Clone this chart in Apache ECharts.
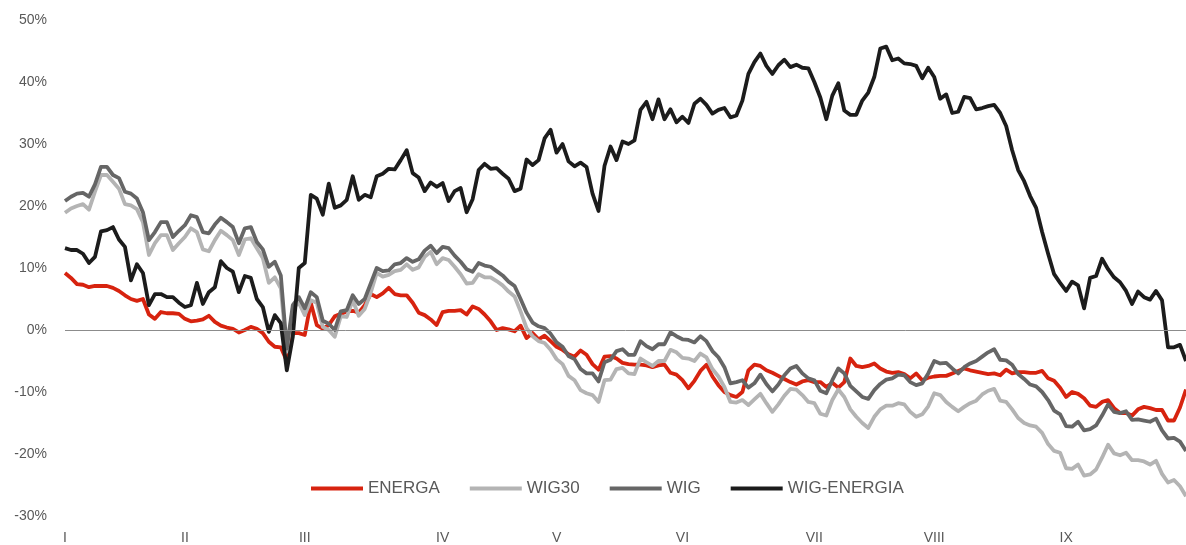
<!DOCTYPE html>
<html>
<head>
<meta charset="utf-8">
<script src="https://cdn.jsdelivr.net/npm/echarts@6/dist/echarts.min.js"></script>
<style>
  html, body { margin: 0; padding: 0; background: #fff; }
  #main { width: 1186px; height: 545px; }
</style>
</head>
<body>
<div id="main"></div>
<script>
// session index where each month starts, and its label
var monthStart = [0, 20, 40, 63, 82, 103, 125, 145, 167];
var monthLabel = ['I', 'II', 'III', 'IV', 'V', 'VI', 'VII', 'VIII', 'IX'];

// cumulative change, %
var energa = [
  9.2, 8.4, 7.4, 7.3, 6.9, 7.1, 7.1, 7.1, 6.8, 6.3,
  5.6, 5.0, 4.7, 5.0, 2.5, 1.8, 2.9, 2.7, 2.7, 2.6,
  1.8, 1.4, 1.5, 1.7, 2.3, 1.3, 0.7, 0.4, 0.2, -0.4,
  0.0, 0.5, 0.2, -0.5, -1.9, -2.7, -2.8, -5.0, -0.5, -0.5,
  -0.8, 4.4, 0.8, 0.2, 0.8, 2.2, 2.6, 3.0, 3.1, 2.8,
  4.0, 5.8, 5.3, 5.9, 6.8, 5.8, 5.6, 5.6, 4.4, 2.8,
  2.4, 1.7, 0.8, 2.9, 3.1, 3.1, 3.2, 2.5, 3.8, 3.4,
  2.5, 1.4, 0.0, 0.3, 0.1, -0.2, 0.7, -1.3, -0.5, -1.5,
  -0.9, -1.8, -2.7, -3.2, -3.9, -4.3, -3.3, -4.0, -5.5, -6.4,
  -4.3, -4.2, -4.6, -5.3, -5.5, -5.6, -5.6, -5.7, -6.0, -5.7,
  -5.6, -6.9, -7.2, -8.1, -9.4, -8.2, -6.6, -5.6, -7.5, -8.9,
  -10.0, -10.5, -10.8, -10.0, -6.5, -5.6, -5.8, -6.5, -6.9, -7.4,
  -7.9, -8.4, -8.8, -8.3, -8.1, -8.4, -8.4, -9.2, -8.5, -9.3,
  -8.4, -4.6, -5.8, -6.0, -5.8, -5.4, -6.2, -6.7, -6.9, -6.8,
  -7.1, -7.8, -7.0, -8.1, -7.7, -7.5, -7.4, -7.4, -7.0, -6.6,
  -6.2, -6.5, -6.7, -6.9, -7.1, -7.0, -7.3, -6.4, -7.0, -6.8,
  -6.8, -6.9, -6.9, -6.6, -7.8, -8.2, -9.3, -10.8, -10.0, -10.3,
  -11.0, -12.2, -12.4, -11.6, -11.3, -12.6, -13.4, -13.4, -13.8, -12.8,
  -12.4, -12.6, -12.9, -12.9, -14.6, -14.6, -12.5, -9.6
];

var wig30 = [
  18.9, 19.6, 20.0, 20.3, 19.4, 22.3, 25.0, 25.0, 23.9, 22.8,
  20.3, 20.1, 19.5, 17.4, 12.1, 14.0, 15.3, 15.3, 12.9, 14.0,
  15.0, 16.4, 15.8, 13.0, 12.7, 14.5, 16.0, 15.3, 14.5, 12.1,
  14.6, 14.8, 13.2, 11.6, 7.6, 8.5, 6.7, -3.5, 3.5, 4.4,
  2.4, 4.8, 4.4, 0.5, 0.0, -1.1, 2.2, 2.1, 4.8, 2.3,
  3.4, 6.0, 9.2, 8.6, 8.9, 9.5, 9.7, 10.6, 9.7, 10.1,
  11.8, 12.6, 10.6, 11.6, 11.3, 10.2, 9.0, 7.5, 7.6, 9.0,
  8.5, 8.5, 7.9, 7.2, 6.2, 5.4, 3.0, 0.3, -1.0, -1.8,
  -2.1, -3.2, -4.7, -5.5, -7.4, -8.1, -9.7, -10.2, -10.5, -11.6,
  -8.1, -8.0, -6.3, -6.1, -7.0, -7.1, -4.6, -5.2, -5.8, -5.0,
  -5.0, -3.2, -3.6, -4.5, -4.6, -5.0, -3.8, -4.4, -6.3, -7.5,
  -9.2, -11.6, -11.7, -11.3, -12.1, -11.2, -10.3, -11.8, -13.2, -12.0,
  -10.6, -9.5, -9.6, -10.5, -11.6, -11.8, -13.5, -13.8, -11.3, -9.6,
  -10.8, -12.8, -14.0, -15.0, -15.8, -14.0, -12.8, -12.2, -12.2, -11.8,
  -12.0, -13.2, -14.0, -13.6, -12.3, -10.2, -10.5, -11.6, -12.4, -13.1,
  -12.4, -11.8, -11.4, -10.4, -9.8, -9.5, -11.4, -11.6, -12.8, -14.2,
  -15.0, -15.4, -15.6, -16.6, -18.4, -19.5, -19.8, -22.3, -22.4, -21.7,
  -23.5, -23.3, -22.5, -20.6, -18.5, -19.9, -20.2, -19.8, -21.0, -21.0,
  -21.2, -21.7, -21.1, -23.2, -24.6, -24.2, -25.2, -26.8
];

var wig = [
  20.8, 21.5, 22.0, 22.1, 21.5, 23.5, 26.3, 26.3, 25.0, 24.5,
  22.3, 22.0, 21.2, 19.0, 14.5, 15.8, 17.4, 17.4, 15.0, 16.0,
  16.9, 18.5, 18.2, 15.8, 15.6, 17.0, 18.1, 17.4, 16.6, 14.0,
  16.4, 16.6, 14.2, 13.0, 10.2, 11.0, 8.8, -3.0, 4.0, 5.3,
  3.5, 6.1, 5.3, 1.5, 1.0, 0.0, 3.0, 3.2, 5.6, 4.2,
  5.0, 7.5, 10.0, 9.5, 9.6, 10.6, 10.8, 11.6, 11.0, 11.4,
  12.8, 13.6, 12.4, 13.4, 13.2, 12.0, 11.0, 9.8, 9.4, 10.8,
  10.4, 10.2, 9.5, 8.8, 7.8, 7.1, 5.0, 2.8, 1.2, 0.6,
  0.3, -0.6, -2.0, -2.7, -4.2, -4.7, -6.3, -7.0, -7.0, -8.3,
  -5.2, -4.8, -3.4, -3.1, -4.0, -4.0, -1.8, -2.6, -3.1, -2.3,
  -2.3, -0.4, -1.0, -1.5, -1.6, -2.0, -1.0, -1.8, -3.4, -4.4,
  -6.0, -8.6, -8.4, -8.1, -9.3, -8.6, -7.2, -8.7, -9.9, -8.8,
  -7.3, -6.2, -5.8, -7.0, -7.8, -8.1, -9.8, -10.2, -8.1, -6.2,
  -7.0, -9.0, -9.9, -10.8, -11.1, -9.7, -8.7, -8.0, -7.8, -7.2,
  -7.3, -8.4, -8.9, -8.6, -7.0, -5.0, -5.4, -5.3, -6.2, -7.0,
  -6.0, -5.4, -5.0, -4.3, -3.6, -3.1, -4.8, -4.9, -5.6, -7.1,
  -7.9, -8.8, -9.1, -10.0, -11.3, -13.0, -13.6, -15.5, -15.6, -14.8,
  -16.2, -16.0, -15.4, -13.8, -12.0, -13.2, -13.4, -13.1, -14.5, -14.4,
  -14.6, -14.8, -14.3, -16.2, -17.5, -17.4, -18.0, -19.5
];

var wigEnergia = [
  13.2, 12.9, 12.9, 12.3, 10.8, 11.8, 15.9, 16.1, 16.6, 14.6,
  13.4, 8.0, 10.6, 9.2, 4.0, 5.8, 5.8, 5.3, 5.3, 4.4,
  3.7, 4.0, 7.6, 4.2, 6.1, 6.9, 11.1, 10.0, 9.4, 6.1,
  8.7, 8.4, 5.0, 3.7, -0.3, 2.4, 1.1, -6.5, -1.1, 10.0,
  10.8, 21.8, 21.2, 18.6, 23.6, 19.7, 20.1, 21.0, 24.8, 21.0,
  21.8, 21.4, 24.8, 25.2, 26.0, 25.9, 27.4, 29.0, 25.3, 24.6,
  22.4, 23.8, 23.1, 23.7, 20.8, 22.4, 22.9, 19.0, 21.1, 25.8,
  26.8, 26.0, 26.1, 25.2, 24.4, 22.4, 22.8, 27.5, 26.6, 27.4,
  30.9, 32.3, 28.6, 30.0, 27.2, 26.4, 27.0, 26.3, 22.0, 19.2,
  26.5, 29.6, 27.4, 30.4, 30.0, 30.6, 35.5, 36.8, 34.0, 37.2,
  34.0, 35.6, 33.5, 34.4, 33.4, 36.5, 37.3, 36.3, 34.9, 35.5,
  35.8, 34.3, 34.6, 37.0, 41.3, 43.2, 44.6, 42.6, 41.3, 42.7,
  43.6, 42.4, 42.8, 42.3, 42.2, 40.0, 37.5, 34.0, 37.8, 39.8,
  35.4, 34.7, 34.7, 37.0, 38.3, 40.8, 45.4, 45.7, 43.5, 43.8,
  43.0, 42.9, 42.6, 40.6, 42.3, 40.8, 37.3, 38.0, 35.0, 35.2,
  37.6, 37.4, 35.6, 35.8, 36.1, 36.3, 35.0, 32.9, 29.0, 25.8,
  24.0, 21.6, 19.7, 15.8, 12.3, 9.0, 7.6, 6.3, 7.8, 7.2,
  3.5, 8.4, 8.7, 11.5, 9.8, 8.5, 7.7, 6.3, 4.2, 6.2,
  5.3, 4.9, 6.3, 4.8, -2.8, -2.8, -2.4, -5.0
];

var days = energa.map(function (v, i) { return 'd' + i; });

var myChart = echarts.init(document.getElementById('main'));
var font = 'Liberation Sans, Arial, sans-serif';

function line(name, data, color) {
  return {
    name: name,
    type: 'line',
    data: data,
    showSymbol: false,
    symbol: 'none',
    lineStyle: { color: color, width: 3.8, join: 'round' },
    itemStyle: { color: color }
  };
}

var series = [
  line('ENERGA', energa, '#d7230f'),
  line('WIG30', wig30, '#b4b4b4'),
  line('WIG', wig, '#666666'),
  line('WIG-ENERGIA', wigEnergia, '#1c1c1c')
];
// zero line
series[0].markLine = {
  silent: true,
  symbol: 'none',
  label: { show: false },
  lineStyle: { color: '#8c8c8c', width: 1, type: 'solid' },
  data: [{ yAxis: 0 }]
};
series[0].z = 3;

var option = {
  animation: false,
  backgroundColor: '#ffffff',
  textStyle: { fontFamily: font },
  grid: { left: 65, right: 0, top: 20, bottom: 29 },
  legend: {
    left: 306,
    top: 475,
    icon: 'rect',
    itemWidth: 52,
    itemHeight: 4,
    itemGap: 30,
    textStyle: { color: '#595959', fontSize: 17, fontFamily: font },
    data: ['ENERGA', 'WIG30', 'WIG', 'WIG-ENERGIA']
  },
  xAxis: {
    type: 'category',
    data: days,
    boundaryGap: false,
    axisLine: { show: false, onZero: false },
    axisTick: { show: false },
    axisLabel: {
      color: '#595959',
      fontSize: 14,
      margin: 15,
      interval: function (index) { return monthStart.indexOf(index) >= 0; },
      formatter: function (value, index) {
        var k = monthStart.indexOf(index);
        return k >= 0 ? monthLabel[k] : '';
      }
    },
    splitLine: { show: false }
  },
  yAxis: {
    type: 'value',
    min: -30,
    max: 50,
    interval: 10,
    axisLine: { show: false },
    axisTick: { show: false },
    splitLine: { show: false },
    axisLabel: {
      color: '#595959',
      fontSize: 14,
      margin: 18,
      formatter: '{value}%'
    }
  },
  series: series
};

myChart.setOption(option);
</script>
</body>
</html>
